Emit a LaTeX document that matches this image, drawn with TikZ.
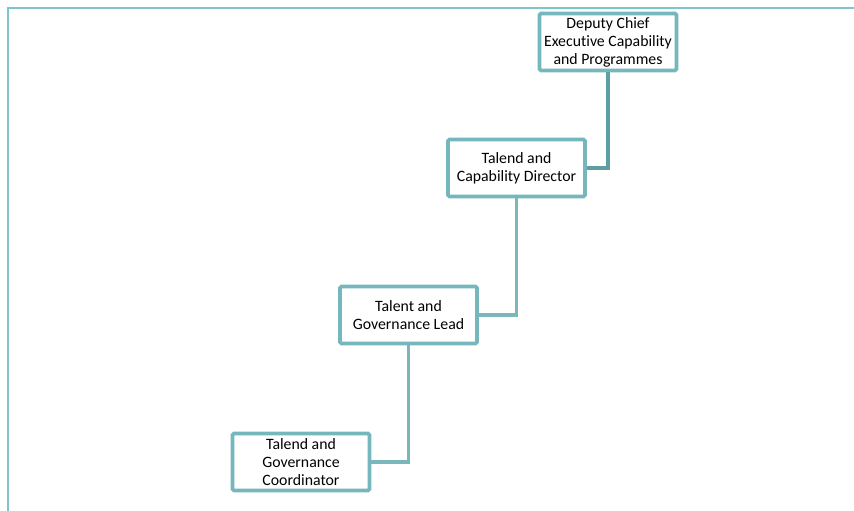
\documentclass[tikz,border=0pt]{standalone}
\usepackage{fontspec}
\setmainfont[Ligatures=NoCommon]{Carlito}
\definecolor{frame}{HTML}{7DC4CB}
\definecolor{boxc}{HTML}{75B7BD}
\definecolor{linec}{HTML}{7AB6BA}
\definecolor{linedark}{HTML}{5E9DA2}
\begin{document}
\begin{tikzpicture}[x=1pt,y=-1pt,
  role/.style={draw=boxc, line width=3.8pt, rounded corners=1.5pt, fill=white,
    minimum width=137pt, minimum height=57pt, align=center, inner sep=1pt,
    font=\fontsize{15.8}{18}\selectfont},
  conn/.style={draw=linec, line width=3.5pt}]
\useasboundingbox (0,0) rectangle (854,511);
\draw[frame, line width=2.5pt] (8,511) -- (8,8) -- (854,8);
\node[role] (a) at (608,42) {Deputy Chief\\Executive Capability\\and Programmes};
\node[role] (b) at (516.5,168) {Talend and\\Capability Director};
\node[role] (c) at (408.5,315) {Talent and\\Governance Lead};
\node[role] (d) at (301,462) {Talend and\\Governance\\Coordinator};
\draw[conn, draw=linedark] (a.south) |- (b.east);
\draw[conn] (b.south) |- (c.east);
\draw[conn] (c.south) |- (d.east);
\end{tikzpicture}
\end{document}
